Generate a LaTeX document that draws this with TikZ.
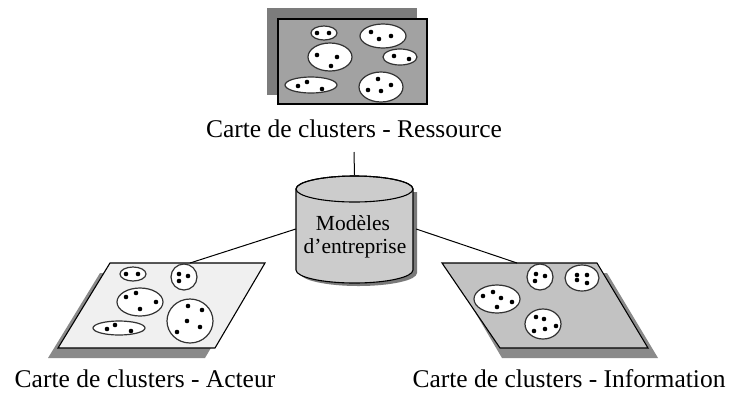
\documentclass[tikz,border=0pt]{standalone}
\usepackage{fontspec}
\setmainfont{Liberation Serif}
\definecolor{shadowgray}{HTML}{8A8A8A}
\definecolor{backgray}{HTML}{7C7C7C}
\definecolor{frontgray}{HTML}{A2A2A2}
\definecolor{lightcard}{HTML}{F0F0F0}
\definecolor{midcard}{HTML}{C2C2C2}
\definecolor{cylgray}{HTML}{CCCCCC}
\definecolor{cylshadow}{HTML}{7A7A7A}
\begin{document}
\begin{tikzpicture}[x=1pt,y=-1pt,
  cardline/.style={draw=black,line width=1.1pt,line join=miter},
  cluster/.style={draw=black!80,fill=white,line width=1.2pt},
  cdot/.style={fill=black},
  maplabel/.style={anchor=base,inner sep=0pt,font=\fontsize{25.5}{28}\selectfont},
  cyltext/.style={anchor=base,inner sep=0pt,font=\fontsize{21.5}{24}\selectfont},
  conn/.style={draw=black,line width=1pt}]
\useasboundingbox (0,0) rectangle (729,392);

% ---------- top card (Ressource) ----------
\fill[backgray] (267,8) rectangle (417,95);
\filldraw[fill=frontgray,cardline] (278,19) rectangle (427,104);
\foreach \cx/\cy/\rx/\ry in {324/33/13/7, 383/36/23/12, 330/57/22/14, 400/57/17/8, 311/85/26/8, 381/87/22/15}
  \path[cluster] (\cx,\cy) ellipse [x radius=\rx, y radius=\ry];
\foreach \px/\py in {317/33,329/33, 371/32,379/39,391/36, 317/55,337/57,331/66, 394/56,409/59, 298/86,307/82,322/89, 378/79,391/85,368/90,381/91}
  \fill[cdot] (\px,\py) circle [radius=2.3];

% ---------- left card (Acteur) ----------
\fill[shadowgray] (100,273) -- (255,273) -- (205,358) -- (48,358) -- cycle;
\filldraw[fill=lightcard,cardline] (110,263) -- (265,263) -- (215,348) -- (58,348) -- cycle;
\foreach \cx/\cy/\rx/\ry in {133/274/13/7, 184/277/13/13, 140/302/23/14, 119/328/26/7, 190/321/23/22}
  \path[cluster] (\cx,\cy) ellipse [x radius=\rx, y radius=\ry];
\foreach \px/\py in {126/274,138/274, 179/274,188/276,179/281, 126/297,136/293,156/302,140/309, 107/329,115/325,131/331, 188/306,202/310,187/321,177/332,200/327}
  \fill[cdot] (\px,\py) circle [radius=2.3];

% ---------- right card (Information) ----------
\fill[shadowgray] (452,273) -- (607,273) -- (658,358) -- (502,358) -- cycle;
\filldraw[fill=midcard,cardline] (442,263) -- (597,263) -- (648,348) -- (500,348) -- cycle;
\foreach \cx/\cy/\rx/\ry in {540/277/13/13, 582/278/17/13, 497/299/23/14, 543/324/18/15}
  \path[cluster] (\cx,\cy) ellipse [x radius=\rx, y radius=\ry];
\foreach \px/\py in {536/274,545/276,535/281, 577/275,587/275,577/280,587/283, 483/296,493/292,501/298,512/302,497/307, 536/317,544/319,556/326,545/329,534/331}
  \fill[cdot] (\px,\py) circle [radius=2.3];

% ---------- labels ----------
\node[maplabel] (lres) at (354,137) {Carte de clusters - Ressource};
\node[maplabel] (lact) at (145,387) {Carte de clusters - Acteur};
\node[maplabel] (linf) at (569,387) {Carte de clusters - Information};

% ---------- cylinder ----------
\fill[cylshadow] (300,192) -- (300,273) arc[start angle=180,end angle=0,x radius=58.5,y radius=13] -- (417,192) -- cycle;
\filldraw[fill=cylgray,draw=black,line width=1.1pt] (296,189) -- (296,270) arc[start angle=180,end angle=0,x radius=58.5,y radius=13] -- (413,189) arc[start angle=0,end angle=-180,x radius=58.5,y radius=13] -- cycle;
\draw[black,line width=1.1pt] (354.5,189) ellipse [x radius=58.5, y radius=13];
\node[minimum width=117pt,minimum height=108pt,inner sep=0pt] (db) at (354.5,229) {};
\node[cyltext] (dbt1) at (353,230) {Modèles};
\node[cyltext] (dbt2) at (355,253) {d’entreprise};

% ---------- connectors ----------
\coordinate (stem) at (354,152);
\coordinate (actop) at (190,263);
\coordinate (inftop) at (517,263);
\draw[conn] (stem) -- (db.north);
\draw[conn] (db.west) -- (actop);
\draw[conn] ([xshift=3pt]db.east) -- (inftop);
\end{tikzpicture}
\end{document}
